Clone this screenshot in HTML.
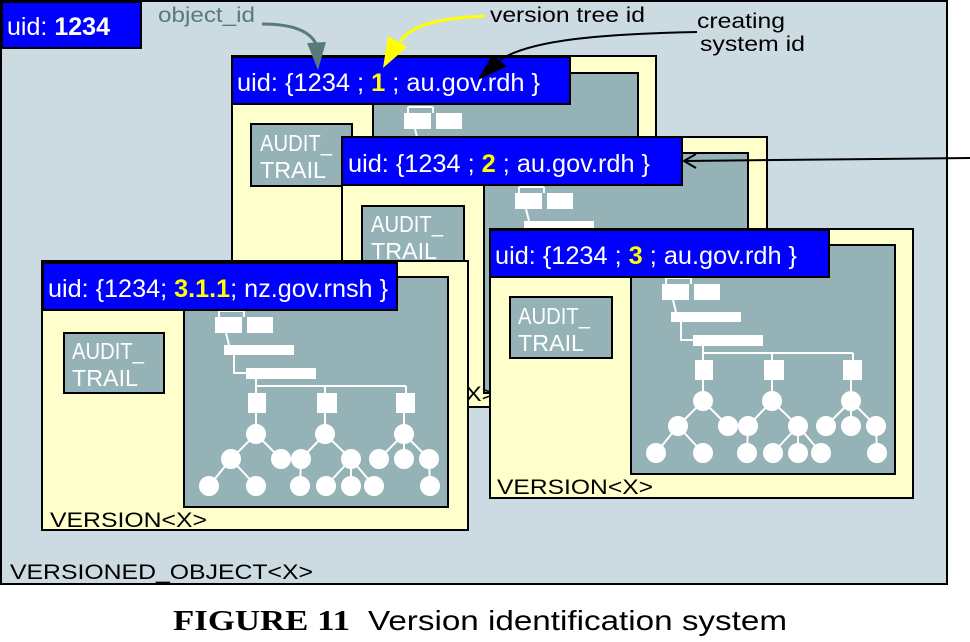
<!DOCTYPE html>
<html><head><meta charset="utf-8"><style>
html,body{margin:0;padding:0;background:#fff;width:970px;height:642px;overflow:hidden}
svg{display:block}
text{font-family:"Liberation Sans",sans-serif}
</style></head><body>
<svg width="970" height="642" viewBox="0 0 970 642" xmlns="http://www.w3.org/2000/svg">
<defs>
<g id="tree" fill="#fff" stroke="#fff" stroke-width="2">
  <line x1="35" y1="40" x2="35" y2="34"/><line x1="35" y1="34" x2="60" y2="34"/><line x1="60" y1="34" x2="60" y2="40"/>
  <rect x="31" y="40" width="27" height="16" stroke="none"/>
  <rect x="63" y="40" width="26" height="16" stroke="none"/>
  <line x1="42" y1="56" x2="45" y2="68"/>
  <rect x="40" y="68" width="70" height="10" stroke="none"/>
  <polyline points="50,78 50,96 62,96" fill="none"/>
  <rect x="62" y="91" width="70" height="11" stroke="none"/>
  <polyline points="72,102 72,109 222,109" fill="none"/>
  <line x1="141" y1="109" x2="141" y2="116"/><line x1="222" y1="109" x2="222" y2="116"/><line x1="72" y1="109" x2="72" y2="116"/>
  <rect x="64" y="116" width="18" height="20" stroke="none"/>
  <rect x="133" y="116" width="20" height="20" stroke="none"/>
  <rect x="212" y="116" width="19" height="20" stroke="none"/>
  <line x1="72" y1="136" x2="72" y2="157"/><line x1="141" y1="136" x2="141" y2="157"/><line x1="220" y1="136" x2="220" y2="157"/>
  <line x1="72" y1="157" x2="47" y2="182"/><line x1="72" y1="157" x2="97" y2="182"/>
  <line x1="47" y1="182" x2="25" y2="209"/><line x1="47" y1="182" x2="72" y2="209"/>
  <line x1="141" y1="157" x2="117" y2="182"/><line x1="141" y1="157" x2="167" y2="182"/>
  <line x1="117" y1="182" x2="116" y2="209"/><line x1="167" y1="182" x2="142" y2="209"/><line x1="167" y1="182" x2="167" y2="209"/><line x1="167" y1="182" x2="190" y2="209"/>
  <line x1="220" y1="157" x2="195" y2="182"/><line x1="220" y1="157" x2="220" y2="182"/><line x1="220" y1="157" x2="245" y2="182"/><line x1="245" y1="182" x2="246" y2="209"/>
  <circle cx="72" cy="157" r="9"/><circle cx="141" cy="157" r="9"/><circle cx="220" cy="157" r="9"/>
  <circle cx="47" cy="182" r="9"/><circle cx="97" cy="182" r="9"/><circle cx="117" cy="182" r="9"/><circle cx="167" cy="182" r="9"/><circle cx="195" cy="182" r="9"/><circle cx="220" cy="182" r="9"/><circle cx="245" cy="182" r="9"/>
  <circle cx="25" cy="209" r="9"/><circle cx="72" cy="209" r="9"/><circle cx="116" cy="209" r="9"/><circle cx="142" cy="209" r="9"/><circle cx="167" cy="209" r="9"/><circle cx="190" cy="209" r="9"/><circle cx="246" cy="209" r="9"/>
</g>
</defs>
<rect x="1" y="1" width="946" height="583" fill="#cbdbe1" stroke="#000" stroke-width="2"/>
<rect x="2" y="2" width="139" height="46" fill="#0000ff" stroke="#000" stroke-width="2"/>
<text x="7" y="35" font-size="25" fill="#fff" textLength="103" lengthAdjust="spacingAndGlyphs">uid: <tspan font-weight="bold">1234</tspan></text>
<text x="158" y="22" font-size="21" fill="#5a7a7a" textLength="97" lengthAdjust="spacingAndGlyphs">object_id</text>
<text x="490" y="22" font-size="21" fill="#000" textLength="155" lengthAdjust="spacingAndGlyphs">version tree id</text>
<text x="697" y="28" font-size="21" fill="#000" textLength="88" lengthAdjust="spacingAndGlyphs">creating</text>
<text x="700" y="51" font-size="21" fill="#000" textLength="105" lengthAdjust="spacingAndGlyphs">system id</text>

<rect x="232" y="56" width="424" height="300" fill="#ffffcc" stroke="#000" stroke-width="2"/>
<rect x="373" y="73" width="265" height="270" fill="#95b3b7" stroke="#000" stroke-width="2"/>
<use href="#tree" x="373" y="73"/>
<rect x="251" y="124" width="101" height="62" fill="#95b3b7" stroke="#000" stroke-width="2"/>
<text x="260" y="151" font-size="23" fill="#fff" textLength="72" lengthAdjust="spacingAndGlyphs">AUDIT_</text><text x="260" y="178" font-size="23" fill="#fff" textLength="66" lengthAdjust="spacingAndGlyphs">TRAIL</text>
<rect x="232" y="57" width="338" height="47" fill="#0000ff" stroke="#000" stroke-width="2"/>
<text x="237" y="91" font-size="25" fill="#fff" textLength="303" lengthAdjust="spacingAndGlyphs">uid: {1234 ; <tspan fill="#ffff00" font-weight="bold">1</tspan> ; au.gov.rdh }</text>

<rect x="342" y="137" width="425" height="270" fill="#ffffcc" stroke="#000" stroke-width="2"/>
<rect x="484" y="153" width="264" height="240" fill="#95b3b7" stroke="#000" stroke-width="2"/>
<use href="#tree" x="484" y="153"/>
<rect x="362" y="206" width="102" height="60" fill="#95b3b7" stroke="#000" stroke-width="2"/>
<text x="371" y="232" font-size="23" fill="#fff" textLength="72" lengthAdjust="spacingAndGlyphs">AUDIT_</text><text x="371" y="259" font-size="23" fill="#fff" textLength="66" lengthAdjust="spacingAndGlyphs">TRAIL</text>
<text x="340" y="401" font-size="21" fill="#000" textLength="156" lengthAdjust="spacingAndGlyphs">VERSION&lt;X&gt;</text>
<rect x="342" y="137" width="340" height="48" fill="#0000ff" stroke="#000" stroke-width="2"/>
<text x="348" y="172" font-size="25" fill="#fff" textLength="302" lengthAdjust="spacingAndGlyphs">uid: {1234 ; <tspan fill="#ffff00" font-weight="bold">2</tspan> ; au.gov.rdh }</text>

<rect x="490" y="229" width="423" height="269" fill="#ffffcc" stroke="#000" stroke-width="2"/>
<rect x="631" y="245" width="264" height="229" fill="#95b3b7" stroke="#000" stroke-width="2"/>
<use href="#tree" x="631" y="244"/>
<rect x="510" y="297" width="102" height="61" fill="#95b3b7" stroke="#000" stroke-width="2"/>
<text x="518" y="324" font-size="23" fill="#fff" textLength="72" lengthAdjust="spacingAndGlyphs">AUDIT_</text><text x="518" y="351" font-size="23" fill="#fff" textLength="66" lengthAdjust="spacingAndGlyphs">TRAIL</text>
<text x="497" y="494" font-size="21" fill="#000" textLength="156" lengthAdjust="spacingAndGlyphs">VERSION&lt;X&gt;</text>
<rect x="490" y="230" width="339" height="47" fill="#0000ff" stroke="#000" stroke-width="2"/>
<text x="495" y="264" font-size="25" fill="#fff" textLength="302" lengthAdjust="spacingAndGlyphs">uid: {1234 ; <tspan fill="#ffff00" font-weight="bold">3</tspan> ; au.gov.rdh }</text>

<rect x="42" y="261" width="426" height="269" fill="#ffffcc" stroke="#000" stroke-width="2"/>
<rect x="184" y="277" width="264" height="230" fill="#95b3b7" stroke="#000" stroke-width="2"/>
<use href="#tree" x="184" y="277"/>
<rect x="64" y="333" width="100" height="60" fill="#95b3b7" stroke="#000" stroke-width="2"/>
<text x="72" y="359" font-size="23" fill="#fff" textLength="72" lengthAdjust="spacingAndGlyphs">AUDIT_</text><text x="72" y="386" font-size="23" fill="#fff" textLength="66" lengthAdjust="spacingAndGlyphs">TRAIL</text>
<text x="50" y="527" font-size="21" fill="#000" textLength="157" lengthAdjust="spacingAndGlyphs">VERSION&lt;X&gt;</text>
<rect x="43" y="263" width="354" height="47" fill="#0000ff" stroke="#000" stroke-width="2"/>
<text x="48" y="297" font-size="25" fill="#fff" textLength="340" lengthAdjust="spacingAndGlyphs">uid: {1234; <tspan fill="#ffff00" font-weight="bold">3.1.1</tspan>; nz.gov.rnsh }</text>

<text x="10" y="579" font-size="21" fill="#000" textLength="303" lengthAdjust="spacingAndGlyphs">VERSIONED_OBJECT&lt;X&gt;</text>

<path d="M262 24 C300 24 315 35 318 50" fill="none" stroke="#5a7a7a" stroke-width="3"/>
<polygon points="307,43 326,42 318,70" fill="#5a7a7a"/>
<path d="M485 16 C440 18 410 25 400 42" fill="none" stroke="#ffff00" stroke-width="3"/>
<polygon points="388,36 407,47 383,68" fill="#ffff00"/>
<path d="M697 32 C600 34 530 40 500 60" fill="none" stroke="#000" stroke-width="2"/>
<polygon points="492,55 507,66 478,80" fill="#000"/>
<line x1="970" y1="158" x2="684" y2="161" stroke="#000" stroke-width="2"/>
<polyline points="696,154 684,161 696,168" fill="none" stroke="#000" stroke-width="2"/>

<text x="173" y="630" font-size="28" fill="#000" style="font-family:'Liberation Serif',serif;font-weight:bold" textLength="177" lengthAdjust="spacingAndGlyphs">FIGURE 11</text>
<text x="368" y="630" font-size="28" fill="#000" textLength="419" lengthAdjust="spacingAndGlyphs">Version identification system</text>
</svg>
</body></html>
